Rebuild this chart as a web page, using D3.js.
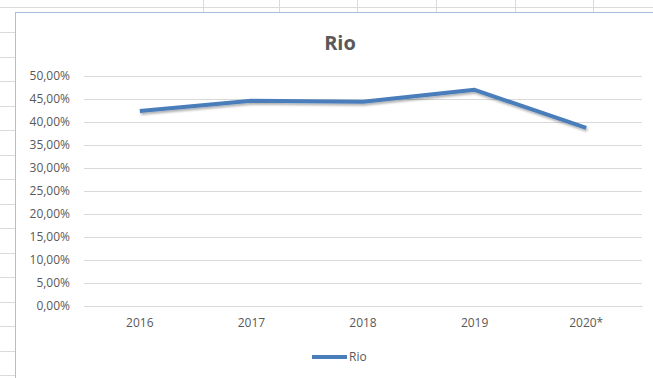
<!DOCTYPE html>
<html>
<head>
<meta charset="utf-8">
<script src="https://cdn.jsdelivr.net/npm/d3@7"></script>
<style>
  body { margin: 0; background: #fff; }
  text { font-family: "Open Sans", "Liberation Sans", sans-serif; }
</style>
</head>
<body>
<div id="chart"></div>
<script>
// chart data
const years = ["2016", "2017", "2018", "2019", "2020*"];
const rioValues = [0.424, 0.446, 0.444, 0.470, 0.387];
const yTicks = [0, 0.05, 0.10, 0.15, 0.20, 0.25, 0.30, 0.35, 0.40, 0.45, 0.50];
const seriesName = "Rio";

const W = 653, H = 378;
const svg = d3.select("#chart").append("svg").attr("width", W).attr("height", H);

// spreadsheet cells behind the chart
const sheet = svg.append("g").attr("stroke", "#dadada").attr("stroke-width", 1);
[203, 279, 357, 436, 515, 593].forEach(x => {
  sheet.append("line").attr("x1", x + 0.5).attr("x2", x + 0.5).attr("y1", 0).attr("y2", 12);
});
sheet.append("line").attr("x1", 0).attr("x2", W).attr("y1", 7.5).attr("y2", 7.5);
d3.range(32, H, 24.5).forEach(y => {
  sheet.append("line").attr("x1", 0).attr("x2", 15).attr("y1", Math.round(y) + 0.5).attr("y2", Math.round(y) + 0.5);
});

// chart area
svg.append("rect").attr("x", 15.5).attr("y", 12.5).attr("width", W).attr("height", H)
  .attr("fill", "#fff").attr("stroke", "#a9bfe0").attr("stroke-width", 1);

const margin = { left: 84, right: 11, top: 76, bottom: 72 };
const x = d3.scaleBand().domain(years).range([margin.left, W - margin.right]);
const y = d3.scaleLinear().domain([0, 0.5]).range([H - margin.bottom, margin.top]);

// title
svg.append("text").attr("x", 340).attr("y", 50).attr("text-anchor", "middle")
  .attr("font-size", 20).attr("font-weight", "bold").attr("fill", "#595959").text("Rio");

// gridlines
const fmt = v => d3.format(".2f")(v * 100).replace(".", ",") + "%";
const yAxis = svg.append("g").attr("transform", `translate(${margin.left},0)`)
  .call(d3.axisLeft(y).tickValues(yTicks).tickSize(-(W - margin.right - margin.left)).tickPadding(14).tickFormat(fmt));
yAxis.select(".domain").remove();
yAxis.selectAll(".tick line").attr("stroke", "#d9d9d9");
yAxis.selectAll(".tick text").attr("fill", "#595959").attr("font-size", 12);

const xAxis = svg.append("g").attr("transform", `translate(0,${y(0)})`)
  .call(d3.axisBottom(x).tickSize(0).tickPadding(12));
xAxis.select(".domain").attr("stroke", "#d9d9d9");
xAxis.selectAll(".tick text").attr("fill", "#595959").attr("font-size", 12);

// shadow for the line
const defs = svg.append("defs");
const f = defs.append("filter").attr("id", "shadow").attr("x", "-10%").attr("y", "-50%").attr("width", "120%").attr("height", "200%");
f.append("feDropShadow").attr("dx", 1).attr("dy", 2).attr("stdDeviation", 1.2)
  .attr("flood-color", "#000").attr("flood-opacity", 0.3);

const line = d3.line().x((d, i) => x(years[i]) + x.bandwidth() / 2).y(d => y(d));
svg.append("path").datum(rioValues).attr("d", line)
  .attr("fill", "none").attr("stroke", "#4a7ebb").attr("stroke-width", 4)
  .attr("stroke-linejoin", "round").attr("filter", "url(#shadow)");

// legend
const lg = svg.append("g").attr("transform", "translate(312,357)");
lg.append("line").attr("x1", 0).attr("x2", 35).attr("y1", 0).attr("y2", 0)
  .attr("stroke", "#4a7ebb").attr("stroke-width", 4);
lg.append("text").attr("x", 37).attr("y", 4).attr("font-size", 12).attr("fill", "#595959").text(seriesName);
</script>
</body>
</html>
